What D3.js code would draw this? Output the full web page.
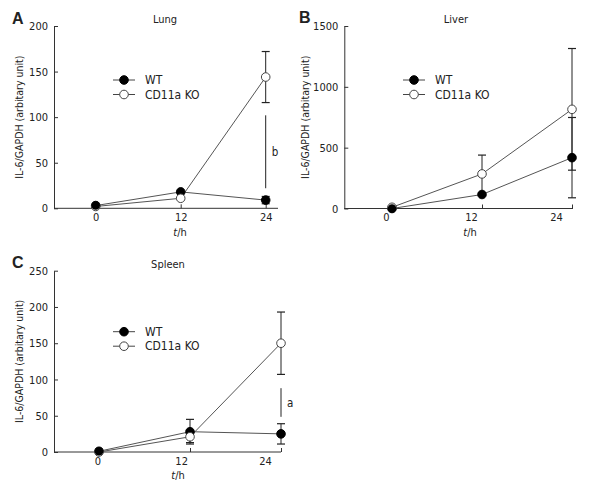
<!DOCTYPE html>
<html><head><meta charset="utf-8">
<script src="https://cdn.jsdelivr.net/npm/d3@7"></script>
<style>
body{margin:0;background:#fff;}
text{font-family:Tahoma,"DejaVu Sans Condensed","DejaVu Sans",sans-serif;fill:#222;}
</style></head>
<body><svg id="c" width="600" height="495"></svg>
<script>
const times = [0, 12, 24];
const tickLabels = ["0", "12", "24"];
const seriesNames = ["WT", "CD11a KO"];
const yLabel = "IL-6/GAPDH (arbitary unit)";

// Lung
const lungWT = [3, 18, 9];
const lungWTerr = [0, 0, 4];
const lungKO = [2, 11, 144];
const lungKOerr = [0, 0, 28];
const lungTicks = [0, 50, 100, 150, 200];
// Liver
const liverWT = [0, 115, 418];
const liverWTerr = [0, 0, 330];
const liverKO = [10, 284, 815];
const liverKOerr = [0, 155, 500];
const liverTicks = [0, 500, 1000, 1500];
// Spleen
const spleenWT = [1, 28, 25];
const spleenWTerr = [0, 17, 14];
const spleenKO = [0, 21, 150];
const spleenKOerr = [0, 8, 43];
const spleenTicks = [0, 50, 100, 150, 200, 250];

const panels = [
  {letter:"A", title:"Lung", wt:lungWT, wte:lungWTerr, ko:lungKO, koe:lungKOerr, ticks:lungTicks, ymax:200,
   ax:54, axEnd:278, top:26, bottom:208.3, m0:95.7, m24:265.7, l0:95.7, l24:265.7,
   letterX:12, letterY:24, titleX:165, titleY:23, ylabX:19, xlabX:180, xlabY:236,
   legX:113, legY:80, sig:{lo:22, hi:102, label:"b"}},
  {letter:"B", title:"Liver", wt:liverWT, wte:liverWTerr, ko:liverKO, koe:liverKOerr, ticks:liverTicks, ymax:1500,
   ax:344.3, axEnd:573, top:26, bottom:208.5, m0:392, m24:572, l0:386, l24:556,
   letterX:299, letterY:23, titleX:456, titleY:23, ylabX:305, xlabX:470, xlabY:236,
   legX:403, legY:80, sig:null},
  {letter:"C", title:"Spleen", wt:spleenWT, wte:spleenWTerr, ko:spleenKO, koe:spleenKOerr, ticks:spleenTicks, ymax:250,
   ax:54, axEnd:281, top:270.7, bottom:452, m0:99, m24:281, l0:97.3, l24:265,
   letterX:12, letterY:268, titleX:168, titleY:268, ylabX:19, xlabX:178, xlabY:479,
   legX:113, legY:331.7, sig:{lo:48.5, hi:88, label:"a"}}
];

const svg = d3.select("#c");
const R = 4.3;
const FF = 'Tahoma,"DejaVu Sans Condensed","DejaVu Sans",sans-serif';

panels.forEach(p => {
  const g = svg.append("g");
  const y = d3.scaleLinear().domain([0, p.ymax]).range([p.bottom, p.top]);
  const xm = d3.scaleLinear().domain([0, 24]).range([p.m0, p.m24]);
  const xl = d3.scaleLinear().domain([0, 24]).range([p.l0, p.l24]);

  // y axis
  const ya = g.append("g").attr("transform", `translate(${p.ax},0)`)
    .call(d3.axisLeft(y).tickValues(p.ticks).tickSizeInner(-4).tickSizeOuter(0).tickPadding(6).tickFormat(d3.format("d")));
  ya.selectAll("text").style("font-size","11px").style("font-family",FF).attr("fill","#222");
  ya.selectAll("line,path").attr("stroke","#333");

  // x axis: domain line + ticks at data positions
  g.append("line").attr("x1", p.ax).attr("x2", p.axEnd).attr("y1", p.bottom).attr("y2", p.bottom).attr("stroke","#333");
  const xa = g.append("g").attr("transform", `translate(0,${p.bottom})`)
    .call(d3.axisBottom(xm).tickValues(times).tickSizeInner(-4).tickSizeOuter(0).tickFormat(""));
  xa.select(".domain").remove();
  xa.selectAll("line").attr("stroke","#333");
  // x tick labels
  const xla = g.append("g").attr("transform", `translate(0,${p.bottom})`)
    .call(d3.axisBottom(xl).tickValues(times).tickSize(0).tickPadding(5).tickFormat((d,i)=>tickLabels[i]));
  xla.select(".domain").remove();
  xla.selectAll("text").style("font-size","11px").style("font-family",FF).attr("fill","#222");

  // labels
  g.append("text").attr("x", p.letterX).attr("y", p.letterY).text(p.letter)
    .style("font-family","'Liberation Sans',Arial,sans-serif").style("font-weight","bold").style("font-size","16px").attr("fill","#111");
  g.append("text").attr("x", p.titleX).attr("y", p.titleY).attr("text-anchor","middle").style("font-size","11px").text(p.title);
  g.append("text").attr("transform", `translate(${p.ylabX},${(p.top+p.bottom)/2}) rotate(-90)`)
    .attr("dy","0.35em").attr("text-anchor","middle").style("font-size","10.5px").text(yLabel);
  const xt = g.append("text").attr("x", p.xlabX).attr("y", p.xlabY).attr("text-anchor","middle").style("font-size","11px");
  xt.append("tspan").style("font-style","italic").text("t");
  xt.append("tspan").text("/h");

  const line = d3.line().x((d,i)=>xm(times[i])).y(d=>y(d));
  // lines
  [p.wt, p.ko].forEach(s => {
    g.append("path").attr("d", line(s)).attr("fill","none").attr("stroke","#555").attr("stroke-width",1);
  });
  // error bars
  [[p.wt,p.wte],[p.ko,p.koe]].forEach(([s,e]) => {
    s.forEach((v,i) => {
      if (!e[i]) return;
      const cx = xm(times[i]);
      g.append("line").attr("x1",cx).attr("x2",cx).attr("y1",y(v-e[i])).attr("y2",y(v+e[i])).attr("stroke","#222");
      [v-e[i], v+e[i]].forEach(w => {
        g.append("line").attr("x1",cx-4).attr("x2",cx+4).attr("y1",y(w)).attr("y2",y(w)).attr("stroke","#222").attr("stroke-width",1.2);
      });
    });
  });
  // significance bar
  if (p.sig) {
    const sx = xm(24);
    g.append("line").attr("x1",sx).attr("x2",sx).attr("y1",y(p.sig.lo)).attr("y2",y(p.sig.hi)).attr("stroke","#222");
    g.append("text").attr("x", sx+6).attr("y", y((p.sig.lo+p.sig.hi)/2)).attr("dy","0.35em").style("font-size","11.5px").text(p.sig.label);
  }
  // markers
  p.wt.forEach((v,i) => g.append("circle").attr("cx",xm(times[i])).attr("cy",y(v)).attr("r",R).attr("fill","#000").attr("stroke","#000"));
  p.ko.forEach((v,i) => g.append("circle").attr("cx",xm(times[i])).attr("cy",y(v)).attr("r",R).attr("fill","#fff").attr("stroke","#444"));
  // WT at 0 drawn on top where values overlap
  g.append("circle").attr("cx",xm(times[0])).attr("cy",y(p.wt[0])).attr("r",R).attr("fill","#000");

  // legend
  seriesNames.forEach((n,k) => {
    const ly = p.legY + k*14.5;
    g.append("line").attr("x1",p.legX).attr("x2",p.legX+22).attr("y1",ly).attr("y2",ly).attr("stroke","#444");
    g.append("circle").attr("cx",p.legX+11).attr("cy",ly).attr("r",R).attr("fill",k?"#fff":"#000").attr("stroke",k?"#444":"#000");
    g.append("text").attr("x",p.legX+32).attr("y",ly).attr("dy","0.35em").style("font-size","12px").text(n);
  });
});
</script></body></html>
